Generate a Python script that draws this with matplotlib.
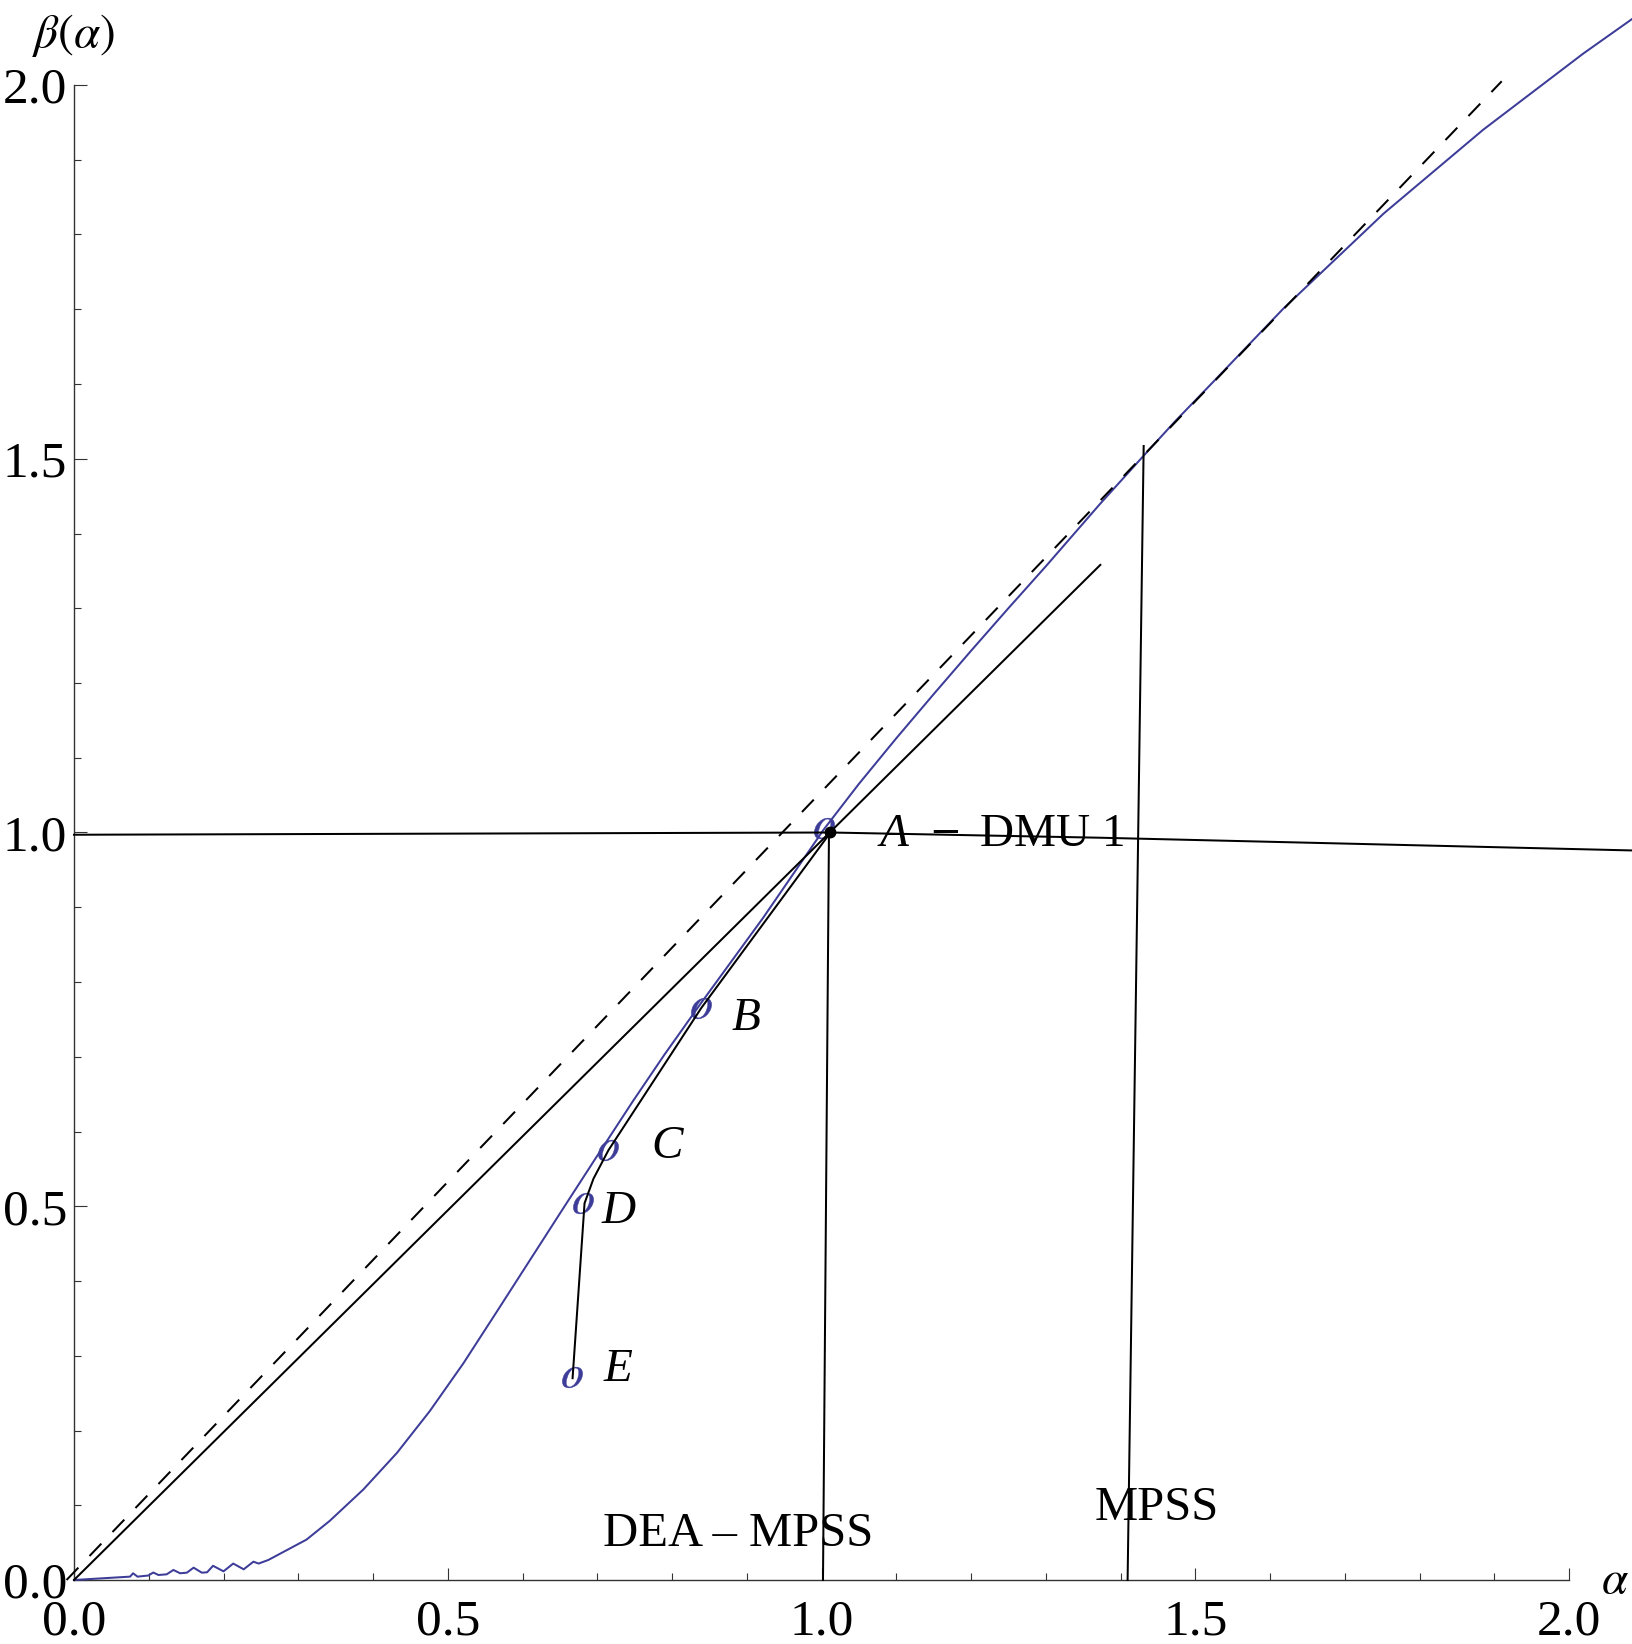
import matplotlib
matplotlib.use("Agg")
import matplotlib.pyplot as plt
from matplotlib.ticker import FixedLocator, FormatStrFormatter

# ---------------- data ----------------
curve_x = [0.0, 0.075, 0.079, 0.085, 0.0995, 0.106, 0.113, 0.124, 0.133, 0.142,
           0.151, 0.160, 0.171, 0.178, 0.186, 0.200, 0.213, 0.227, 0.240, 0.247,
           0.260, 0.311, 0.342, 0.387, 0.432, 0.476, 0.521, 0.565, 0.610, 0.655,
           0.699, 0.748, 0.790, 0.839, 0.922, 1.003, 1.05, 1.10, 1.15, 1.20,
           1.25, 1.30, 1.373, 1.430, 1.473, 1.529, 1.618, 1.752, 1.885, 2.019, 2.084]
curve_y = [0.0, 0.0045, 0.009, 0.0045, 0.006, 0.010, 0.0067, 0.0076, 0.0134, 0.009,
           0.0098, 0.0165, 0.0098, 0.0103, 0.019, 0.0116, 0.022, 0.0143, 0.0245, 0.022,
           0.0268, 0.054, 0.079, 0.121, 0.170, 0.226, 0.290, 0.358, 0.428, 0.498,
           0.566, 0.641, 0.703, 0.772, 0.886, 1.004, 1.065, 1.126, 1.185, 1.243,
           1.300, 1.356, 1.440, 1.503, 1.550, 1.608, 1.701, 1.828, 1.940, 2.042, 2.088]

diag_x = [-0.01, 1.91]
diag_y = [0.0, 2.005]

ray_x = [0.0, 1.373]
ray_y = [0.0, 1.358]

iso_x = [0.0, 1.012, 1.373, 2.084]
iso_y = [0.997, 1.0, 0.993, 0.976]

dea_x = [1.010, 1.002]
dea_y = [1.0, 0.0]

mpss_x = [1.431, 1.4095]
mpss_y = [1.517, 0.0]

path_x = [1.012, 0.839, 0.715, 0.695, 0.683, 0.667]
path_y = [1.0, 0.765, 0.575, 0.537, 0.504, 0.270]

pts_x = [1.003, 0.839, 0.715, 0.681, 0.666]
pts_y = [1.006, 0.765, 0.575, 0.504, 0.271]

dmu_x = [1.012]
dmu_y = [1.0]

major_ticks = [0.0, 0.5, 1.0, 1.5, 2.0]
minor_ticks = [0.1, 0.2, 0.3, 0.4, 0.6, 0.7, 0.8, 0.9, 1.1, 1.2, 1.3, 1.4,
               1.6, 1.7, 1.8, 1.9]

# ---------------- figure ----------------
plt.rcParams["font.family"] = ["Liberation Serif", "DejaVu Serif"]
plt.rcParams["mathtext.fontset"] = "stix"

W, H = 1632, 1644
fig = plt.figure(figsize=(W / 100, H / 100), dpi=100)
ax = fig.add_axes([0, 0, 1, 1])
ax.set_facecolor("white")

scale = 747.5
ox, oy = 74, 1580
ax.set_xlim(-ox / scale, (W - ox) / scale)
ax.set_ylim(-(H - oy) / scale, oy / scale)

blue = "#3d3d99"
lw = 1.45

ax.plot(curve_x, curve_y, color=blue, lw=lw, solid_joinstyle="round", zorder=2)
ax.plot(pts_x, pts_y, linestyle="none", marker=r"$o$", markersize=15,
        markerfacecolor=blue, markeredgecolor=blue, markeredgewidth=0.3, zorder=3)

ax.plot(diag_x, diag_y, color="black", lw=lw, dashes=(8.5, 8.0), zorder=4)
ax.plot(ray_x, ray_y, color="black", lw=lw, zorder=4)
ax.plot(iso_x, iso_y, color="black", lw=lw, zorder=4)
ax.plot(dea_x, dea_y, color="black", lw=lw, zorder=4)
ax.plot(mpss_x, mpss_y, color="black", lw=lw, zorder=4)
ax.plot(path_x, path_y, color="black", lw=lw, zorder=4, solid_joinstyle="round")
ax.plot(dmu_x, dmu_y, linestyle="none", marker="o", markersize=7.5,
        color="black", zorder=5)

# axes
for s in ["top", "right"]:
    ax.spines[s].set_visible(False)
for s in ["left", "bottom"]:
    ax.spines[s].set_position(("data", 0))
    ax.spines[s].set_bounds(0, 2)
    ax.spines[s].set_color("#333333")
    ax.spines[s].set_linewidth(1.0)
    ax.spines[s].set_zorder(1)

for axis in (ax.xaxis, ax.yaxis):
    axis.set_major_locator(FixedLocator(major_ticks))
    axis.set_minor_locator(FixedLocator(minor_ticks))
    axis.set_major_formatter(FormatStrFormatter("%.1f"))
ax.tick_params(which="major", direction="in", length=9, width=0.8, color="#333333",
               labelsize=37)
ax.tick_params(which="minor", direction="in", length=5, width=0.8, color="#333333")
ax.tick_params(axis="x", which="major", pad=14)
ax.tick_params(axis="y", which="major", pad=5)

# labels
fs = 34
ax.text(0.0, 2.051, r"$\beta(\alpha)$", fontsize=fs, ha="center", va="baseline")
ax.text(2.043, -0.017, r"$\alpha$", fontsize=fs, ha="left", va="baseline")

ax.text(1.078, 0.982, "A", fontsize=fs, fontstyle="italic", ha="left", va="baseline")
ax.text(1.149, 0.987, "\u2013", fontsize=fs, fontweight="bold", ha="left",
        va="baseline", zorder=6)
ax.text(1.212, 0.982, "DMU 1", fontsize=fs, ha="left", va="baseline")
ax.text(0.880, 0.736, "B", fontsize=fs, fontstyle="italic", ha="left", va="baseline")
ax.text(0.773, 0.564, "C", fontsize=fs, fontstyle="italic", ha="left", va="baseline")
ax.text(0.706, 0.477, "D", fontsize=fs, fontstyle="italic", ha="left", va="baseline")
ax.text(0.708, 0.266, "E", fontsize=fs, fontstyle="italic", ha="left", va="baseline")
ax.text(0.708, 0.045, "DEA \u2013 MPSS", fontsize=35, ha="left", va="baseline")
ax.text(1.366, 0.080, "MPSS", fontsize=35, ha="left", va="baseline")

fig.savefig("out.png", dpi=100, facecolor="white")
